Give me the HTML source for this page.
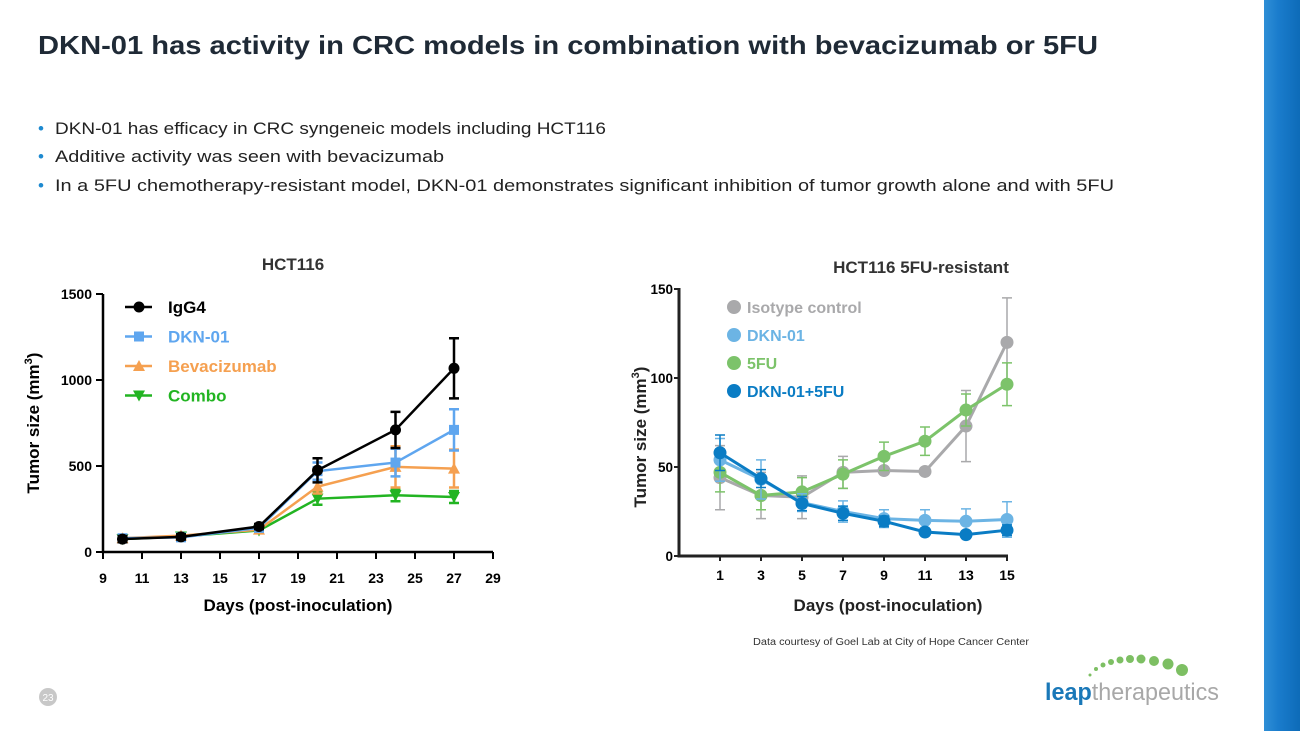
<!DOCTYPE html>
<html><head><meta charset="utf-8"><style>
html,body{margin:0;padding:0;background:#fff;}
svg{display:block;font-family:"Liberation Sans",sans-serif;}
</style></head><body>
<svg id="s" width="1300" height="731" viewBox="0 0 1300 731">
<defs>
<linearGradient id="strip" x1="0" x2="1" y1="0" y2="0"><stop offset="0" stop-color="#2f8fd6"/><stop offset="0.4" stop-color="#1a7ccc"/><stop offset="1" stop-color="#0d6bb8"/></linearGradient>
</defs>
<rect x="1264" y="0" width="36" height="731" fill="url(#strip)"/>
<text x="38" y="54" font-size="26" font-weight="bold" fill="#1f2a36" textLength="1060" lengthAdjust="spacingAndGlyphs">DKN-01 has activity in CRC models in combination with bevacizumab or 5FU</text>
<g font-size="17" fill="#222">
<text x="38" y="134" fill="#1e8ad0">•</text><text x="55" y="134" textLength="551" lengthAdjust="spacingAndGlyphs">DKN-01 has efficacy in CRC syngeneic models including HCT116</text>
<text x="38" y="162" fill="#1e8ad0">•</text><text x="55" y="162" textLength="389" lengthAdjust="spacingAndGlyphs">Additive activity was seen with bevacizumab</text>
<text x="38" y="191" fill="#1e8ad0">•</text><text x="55" y="191" textLength="1059" lengthAdjust="spacingAndGlyphs">In a 5FU chemotherapy-resistant model, DKN-01 demonstrates significant inhibition of tumor growth alone and with 5FU</text>
</g>
<g id="c1"></g>
<g id="c2"></g>
<text x="891" y="645" font-size="10" fill="#333" text-anchor="middle" textLength="276" lengthAdjust="spacingAndGlyphs">Data courtesy of Goel Lab at City of Hope Cancer Center</text>
<g>
<circle cx="1090" cy="675" r="1.5" fill="#7dbf63"/><circle cx="1096" cy="669" r="2" fill="#7dbf63"/><circle cx="1103" cy="665" r="2.5" fill="#7dbf63"/><circle cx="1111" cy="662" r="3" fill="#7dbf63"/><circle cx="1120" cy="660" r="3.5" fill="#7dbf63"/><circle cx="1130" cy="659" r="4" fill="#7dbf63"/><circle cx="1141" cy="659" r="4.5" fill="#7dbf63"/><circle cx="1154" cy="661" r="5" fill="#7dbf63"/><circle cx="1168" cy="664" r="5.5" fill="#7dbf63"/><circle cx="1182" cy="670" r="6" fill="#7dbf63"/>
<text x="1045" y="700" font-size="24" textLength="174" lengthAdjust="spacingAndGlyphs"><tspan fill="#1a78b8" font-weight="bold">leap</tspan><tspan fill="#a8a8a8">therapeutics</tspan></text>
</g>
<circle cx="48" cy="697" r="9" fill="#c8c8c8"/>
<text x="48" y="701" font-size="10" fill="#fff" text-anchor="middle">23</text>
</svg>
<script>
// Chart 1 data
const days1 = [10,13,17,20,24,27];
const names1 = ["IgG4","DKN-01","Bevacizumab","Combo"];
const igg4 = [75,88,148,475,710,1068];
const igg4Err = [18,15,15,70,105,175];
const dkn1 = [80,85,140,470,520,710];
const dkn1Err = [15,10,15,50,80,120];
const bev = [80,95,130,380,495,485];
const bevErr = [15,10,10,40,120,110];
const combo1 = [75,90,125,310,330,320];
const combo1Err = [12,10,10,35,35,35];
const xTicks1 = [9,11,13,15,17,19,21,23,25,27,29];
const yTicks1 = [0,500,1000,1500];
// Chart 2 data
const days2 = [1,3,5,7,9,11,13,15];
const names2 = ["Isotype control","DKN-01","5FU","DKN-01+5FU"];
const iso = [44,34,33,47,48,47.5,73,120];
const isoErr = [18,13,12,9,2,2,20,25];
const dkn2 = [54,43,30,25,21,20,19.5,20.5];
const dkn2Err = [12,11,5,6,5,6,7,10];
const fu = [47,34,36,46,56,64.5,82,96.5];
const fuErr = [11,8,8,8,8,8,9,12];
const combo2 = [58,43.5,29.5,24,19.5,13.5,12,14.5];
const combo2Err = [10,5,4,4,3,2,2,3];
const xTicks2 = [1,3,5,7,9,11,13,15];
const yTicks2 = [0,50,100,150];

const NS="http://www.w3.org/2000/svg";
function mk(p,tag,a,txt){const e=document.createElementNS(NS,tag);for(const k in a)e.setAttribute(k,a[k]);if(txt!=null)e.textContent=txt;p.appendChild(e);return e;}

// chart 1 scales
const x1=d=>103+(d-9)*19.5, y1=v=>552-v*0.172;
const c1=document.getElementById('c1');
const t1=mk(c1,'text',{x:293,y:270,'font-size':17,'font-weight':'bold',fill:'#333','text-anchor':'middle'},'HCT116');


const ax1=mk(c1,'path',{d:`M103 294 V552 H493`,stroke:'#000','stroke-width':2.5,fill:'none'});


yTicks1.forEach(v=>{mk(c1,'line',{x1:96,x2:103,y1:y1(v),y2:y1(v),stroke:'#000','stroke-width':2});
 const t=mk(c1,'text',{x:92,y:y1(v)+5,'font-size':14,'font-weight':'bold','text-anchor':'end'},v);
 
 });
xTicks1.forEach(v=>{mk(c1,'line',{x1:x1(v),x2:x1(v),y1:552,y2:559,stroke:'#000','stroke-width':2});
 const t=mk(c1,'text',{x:x1(v),y:583,'font-size':14,'font-weight':'bold','text-anchor':'middle'},v);
 
 });
const xl1=mk(c1,'text',{x:298,y:611,'font-size':17,'font-weight':'bold','text-anchor':'middle'},'Days (post-inoculation)');


const yl1=mk(c1,'text',{transform:'translate(39,423) rotate(-90)','font-size':17,'font-weight':'bold','text-anchor':'middle'});
yl1.innerHTML='Tumor size (mm<tspan dy="-7" font-size="11">3</tspan><tspan dy="7">)</tspan>';


function marker(g,shape,cx,cy,col){
 if(shape==='c')return mk(g,'circle',{cx,cy,r:5.5,fill:col});
 if(shape==='s')return mk(g,'rect',{x:cx-5,y:cy-5,width:10,height:10,fill:col});
 if(shape==='u')return mk(g,'path',{d:`M${cx-6} ${cy+5}L${cx+6} ${cy+5}L${cx} ${cy-6}Z`,fill:col});
 return mk(g,'path',{d:`M${cx-6} ${cy-5}L${cx+6} ${cy-5}L${cx} ${cy+6}Z`,fill:col});
}
const s1=[[combo1,combo1Err,'#22b422','d','combo'],[bev,bevErr,'#f5a050','u','bevacizumab'],[dkn1,dkn1Err,'#5fa6ef','s','dkn01'],[igg4,igg4Err,'#000','c','igg4']];
s1.forEach(([v,e,col,sh,nm])=>{
 const g=mk(c1,'g',{});
 
 
 const l=mk(g,'polyline',{points:days1.map((d,i)=>x1(d)+','+y1(v[i])).join(' '),fill:'none',stroke:col,'stroke-width':2.5});
 
 
 days1.forEach((d,i)=>{const x=x1(d),a=y1(v[i]+e[i]),b=y1(v[i]-e[i]);
  mk(g,'path',{d:`M${x} ${a}V${b}M${x-5} ${a}H${x+5}M${x-5} ${b}H${x+5}`,stroke:col,'stroke-width':2.5,fill:'none'});
  const m=marker(g,sh,x,y1(v[i]),col);
  
  });
});
const leg1=[['#000','c','#000'],['#5fa6ef','s','#5fa6ef'],['#f5a050','u','#f5a050'],['#22b422','d','#22b422']];
names1.forEach((n,i)=>{const y=307+i*29.5;const g=mk(c1,'g',{});
 
 
 mk(g,'line',{x1:125,x2:152,y1:y,y2:y,stroke:leg1[i][0],'stroke-width':2.5});marker(g,leg1[i][1],139,y,leg1[i][0]);
 mk(g,'text',{x:168,y:y+6,'font-size':17,'font-weight':'bold',fill:leg1[i][2]},n);});

// chart 2
const x2=d=>720+(d-1)*20.5, y2=v=>556-v*1.78;
const c2=document.getElementById('c2');
const t2=mk(c2,'text',{x:921,y:273,'font-size':17,'font-weight':'bold',fill:'#333','text-anchor':'middle'},'HCT116 5FU-resistant');


const ax2=mk(c2,'path',{d:`M679 288 V556 H1008`,stroke:'#222','stroke-width':3,fill:'none'});


yTicks2.forEach(v=>{mk(c2,'line',{x1:674,x2:679,y1:y2(v),y2:y2(v),stroke:'#222','stroke-width':2});
 const t=mk(c2,'text',{x:673,y:y2(v)+5,'font-size':14,'font-weight':'bold','text-anchor':'end',textLength:(String(v).length*7.5),lengthAdjust:'spacingAndGlyphs'},v);
 
 });
xTicks2.forEach(v=>{mk(c2,'line',{x1:x2(v),x2:x2(v),y1:556,y2:561,stroke:'#222','stroke-width':2});
 const t=mk(c2,'text',{x:x2(v),y:580,'font-size':14,'font-weight':'bold','text-anchor':'middle'},v);
 
 });
const xl2=mk(c2,'text',{x:888,y:611,'font-size':17,'font-weight':'bold','text-anchor':'middle',fill:'#222'},'Days (post-inoculation)');


const yl2=mk(c2,'text',{transform:'translate(646,437) rotate(-90)','font-size':17,'font-weight':'bold','text-anchor':'middle',fill:'#222'});
yl2.innerHTML='Tumor size (mm<tspan dy="-7" font-size="11">3</tspan><tspan dy="7">)</tspan>';


const cols2=['#a9a9ab','#6cb4e4','#7cc36a','#0a7cc4'];
const s2=[[iso,isoErr,0,'isotype'],[fu,fuErr,2,'5fu'],[dkn2,dkn2Err,1,'dkn01'],[combo2,combo2Err,3,'dkn01-5fu']];
s2.forEach(([v,e,ci,nm])=>{const col=cols2[ci];
 const g=mk(c2,'g',{});
 
 
 days2.forEach((d,i)=>{const x=x2(d),a=y2(v[i]+e[i]),b=y2(v[i]-e[i]);
  mk(g,'path',{d:`M${x} ${a}V${b}M${x-5} ${a}H${x+5}M${x-5} ${b}H${x+5}`,stroke:col,'stroke-width':1.5,fill:'none'});});
 const l=mk(g,'polyline',{points:days2.map((d,i)=>x2(d)+','+y2(v[i])).join(' '),fill:'none',stroke:col,'stroke-width':3});
 
 
 days2.forEach((d,i)=>{const m=mk(g,'circle',{cx:x2(d),cy:y2(v[i]),r:6.5,fill:col});
  
  });
});
names2.forEach((n,i)=>{const y=307+i*28;const g=mk(c2,'g',{});
 
 
 mk(g,'circle',{cx:734,cy:y,r:7,fill:cols2[i]});
 mk(g,'text',{x:747,y:y+6,'font-size':16,'font-weight':'bold',fill:cols2[i]},n);});
</script>
</body></html>
